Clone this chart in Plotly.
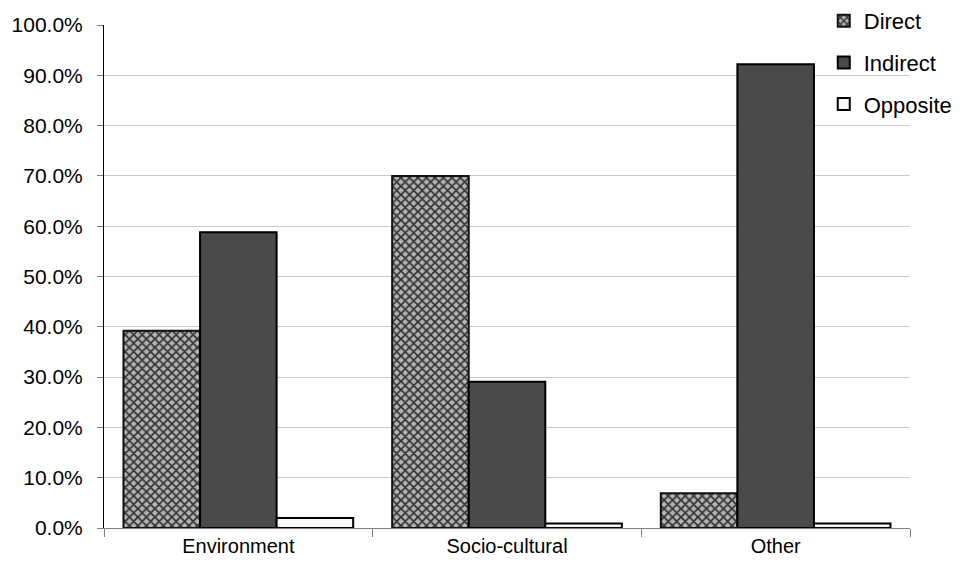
import plotly.graph_objects as go

categories = ["Environment", "Socio-cultural", "Other"]
direct = [0.392, 0.700, 0.069]
indirect = [0.588, 0.291, 0.922]
opposite = [0.020, 0.009, 0.009]
y_ticks = [i / 10 for i in range(11)]
y_tick_labels = [f"{v * 100:.1f}%" for v in y_ticks]

fig = go.Figure()
fig.add_trace(go.Bar(
    name="Direct", x=categories, y=direct, legendgroup="d",
    marker=dict(color="#9a9a9a",
                line=dict(color="#111111", width=2),
                pattern=dict(shape="x", size=6, solidity=0.5,
                             fgcolor="#333333", bgcolor="#b4b4b4",
                             fillmode="replace")),
))
fig.add_trace(go.Bar(
    name="Indirect", x=categories, y=indirect, legendgroup="i",
    marker=dict(color="#4a4a4a", line=dict(color="#000000", width=2)),
))
fig.add_trace(go.Bar(
    name="Opposite", x=categories, y=opposite, legendgroup="o",
    marker=dict(color="#f8f8f8", line=dict(color="#000000", width=2)),
))

font_family = "Liberation Sans, Arial, sans-serif"
fig.update_layout(
    width=968, height=574,
    margin=dict(l=104, r=58, t=25, b=46, autoexpand=False),
    paper_bgcolor="white", plot_bgcolor="white",
    barmode="group", bargap=0.145, bargroupgap=0,
    font=dict(family=font_family, size=20, color="#000000"),
    showlegend=True,
    legend=dict(x=0.893, y=1.005, xanchor="left", yanchor="top",
                xref="paper", yref="container",
                font=dict(size=22), itemwidth=30,
                bgcolor="rgba(0,0,0,0)", tracegroupgap=10),
    xaxis=dict(showline=True, linecolor="#808080", linewidth=1,
               ticks="outside", tickson="boundaries", ticklen=8,
               tickcolor="#808080", tickfont=dict(size=20),
               showgrid=False),
    yaxis=dict(range=[0, 1], tickvals=y_ticks, ticktext=y_tick_labels,
               showline=True, linecolor="#000000", linewidth=1,
               ticks="outside", ticklen=6, tickcolor="#808080",
               ticklabelstandoff=10,
               showgrid=True, gridcolor="#c8c8c8", gridwidth=1,
               zeroline=False, tickfont=dict(size=21)),
)
fig.update_xaxes(range=[-0.5, 2.5])

fig.write_html("out.html")
